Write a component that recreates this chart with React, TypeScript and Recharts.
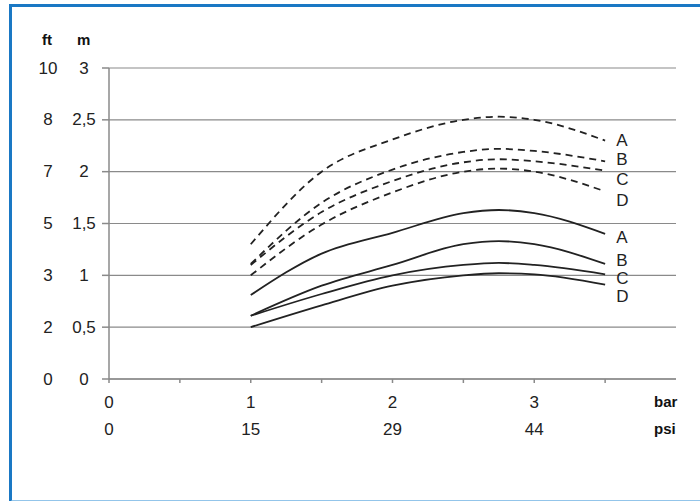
import React from 'react';
import { LineChart, Line, XAxis, YAxis, CartesianGrid } from 'recharts';

// pressure in bar (x) and head in m (y)
const barValues = [1, 1.5, 2, 2.5, 2.75, 3, 3.5];

const dashA = [1.3, 2.0, 2.31, 2.5, 2.53, 2.5, 2.3];
const dashB = [1.11, 1.7, 2.02, 2.19, 2.22, 2.2, 2.1];
const dashC = [1.1, 1.61, 1.91, 2.09, 2.12, 2.1, 2.01];
const dashD = [1.0, 1.49, 1.8, 2.0, 2.03, 2.0, 1.81];
const solidA = [0.81, 1.21, 1.41, 1.6, 1.63, 1.6, 1.4];
const solidB = [0.61, 0.9, 1.1, 1.3, 1.33, 1.3, 1.11];
const solidC = [0.61, 0.82, 1.0, 1.1, 1.12, 1.1, 1.01];
const solidD = [0.5, 0.71, 0.9, 1.0, 1.02, 1.01, 0.91];

const mTicks = [0, 0.5, 1, 1.5, 2, 2.5, 3];
const mLabels = ['0', '0,5', '1', '1,5', '2', '2,5', '3'];
const ftLabels = ['0', '2', '3', '5', '7', '8', '10'];

const barTicks = [0, 0.5, 1, 1.5, 2, 2.5, 3, 3.5];
const barLabels = ['0', '1', '2', '3'];
const psiLabels = ['0', '15', '29', '44'];

const series = [
  { key: 'dA', name: 'A', values: dashA, dashed: true, dy: 0 },
  { key: 'dB', name: 'B', values: dashB, dashed: true, dy: -2 },
  { key: 'dC', name: 'C', values: dashC, dashed: true, dy: 9 },
  { key: 'dD', name: 'D', values: dashD, dashed: true, dy: 9 },
  { key: 'sA', name: 'A', values: solidA, dashed: false, dy: 4 },
  { key: 'sB', name: 'B', values: solidB, dashed: false, dy: -3 },
  { key: 'sC', name: 'C', values: solidC, dashed: false, dy: 4 },
  { key: 'sD', name: 'D', values: solidD, dashed: false, dy: 12 },
];

const data = barValues.map((x, i) => {
  const row: any = { x };
  series.forEach((s) => {
    row[s.key] = s.values[i];
  });
  return row;
});

const FONT = '"Liberation Sans", Arial, sans-serif';
const GRAY = '#8a8a8a';

const YTick = (props: any) => {
  const { y, payload } = props;
  const i = mTicks.indexOf(payload.value);
  return (
    <g>
      <text x={48} y={y} textAnchor="middle" dominantBaseline="central" fontSize={17} fill="#222" fontFamily={FONT}>
        {ftLabels[i]}
      </text>
      <text x={84} y={y} textAnchor="middle" dominantBaseline="central" fontSize={17} fill="#222" fontFamily={FONT}>
        {mLabels[i]}
      </text>
    </g>
  );
};

const XTick = (props: any) => {
  const { x, payload } = props;
  const v = payload.value;
  if (!Number.isInteger(v)) return <g />;
  return (
    <g>
      <text x={x} y={402} textAnchor="middle" dominantBaseline="central" fontSize={17} fill="#222" fontFamily={FONT}>
        {barLabels[v]}
      </text>
      <text x={x} y={429} textAnchor="middle" dominantBaseline="central" fontSize={17} fill="#222" fontFamily={FONT}>
        {psiLabels[v]}
      </text>
    </g>
  );
};

const endLabel = (text: string, dy: number) => (props: any) => {
  if (props.index !== barValues.length - 1) return <g key={props.index} />;
  return (
    <text
      key={props.index}
      x={props.x + 11}
      y={props.y + dy}
      dominantBaseline="central"
      fontSize={17}
      fill="#222"
      fontFamily={FONT}
    >
      {text}
    </text>
  );
};

const boldText: React.CSSProperties = {
  position: 'absolute',
  fontFamily: FONT,
  fontWeight: 'bold',
  fontSize: 15,
  color: '#111',
  lineHeight: '16px',
};

export default function App() {
  return (
    <div style={{ position: 'absolute', left: 0, top: 0, width: 700, height: 501, overflow: 'hidden', background: '#fff' }}>
      <div
        style={{
          position: 'absolute',
          left: 9,
          top: 4,
          width: 700,
          height: 493,
          borderLeft: '3px solid #1a78c4',
          borderTop: '3px solid #1a78c4',
          borderBottom: '3px solid #93c5ea',
        }}
      />
      <div style={{ position: 'absolute', left: 0, top: 0 }}>
        <LineChart width={700} height={501} data={data} margin={{ top: 68, right: 24, left: 0, bottom: 0 }}>
          <CartesianGrid vertical={false} stroke={GRAY} strokeWidth={1.2} />
          <XAxis
            dataKey="x"
            type="number"
            domain={[0, 4]}
            ticks={barTicks}
            height={122}
            tickSize={4}
            stroke={GRAY}
            strokeWidth={1.5}
            tickLine={{ stroke: GRAY }}
            tick={<XTick />}
            interval={0}
          />
          <YAxis
            type="number"
            domain={[0, 3]}
            ticks={mTicks}
            width={109}
            tickSize={7}
            stroke={GRAY}
            strokeWidth={1.5}
            tickLine={{ stroke: GRAY }}
            tick={<YTick />}
            interval={0}
          />
          {series.map((s) => (
            <Line
              key={s.key}
              dataKey={s.key}
              type="monotone"
              stroke="#222"
              strokeWidth={1.8}
              strokeDasharray={s.dashed ? '7 5' : undefined}
              dot={false}
              activeDot={false}
              isAnimationActive={false}
              label={endLabel(s.name, s.dy)}
            />
          ))}
        </LineChart>
      </div>
      <div style={{ ...boldText, left: 42, top: 32 }}>ft</div>
      <div style={{ ...boldText, left: 77, top: 32 }}>m</div>
      <div style={{ ...boldText, left: 654, top: 394 }}>bar</div>
      <div style={{ ...boldText, left: 654, top: 421 }}>psi</div>
    </div>
  );
}
